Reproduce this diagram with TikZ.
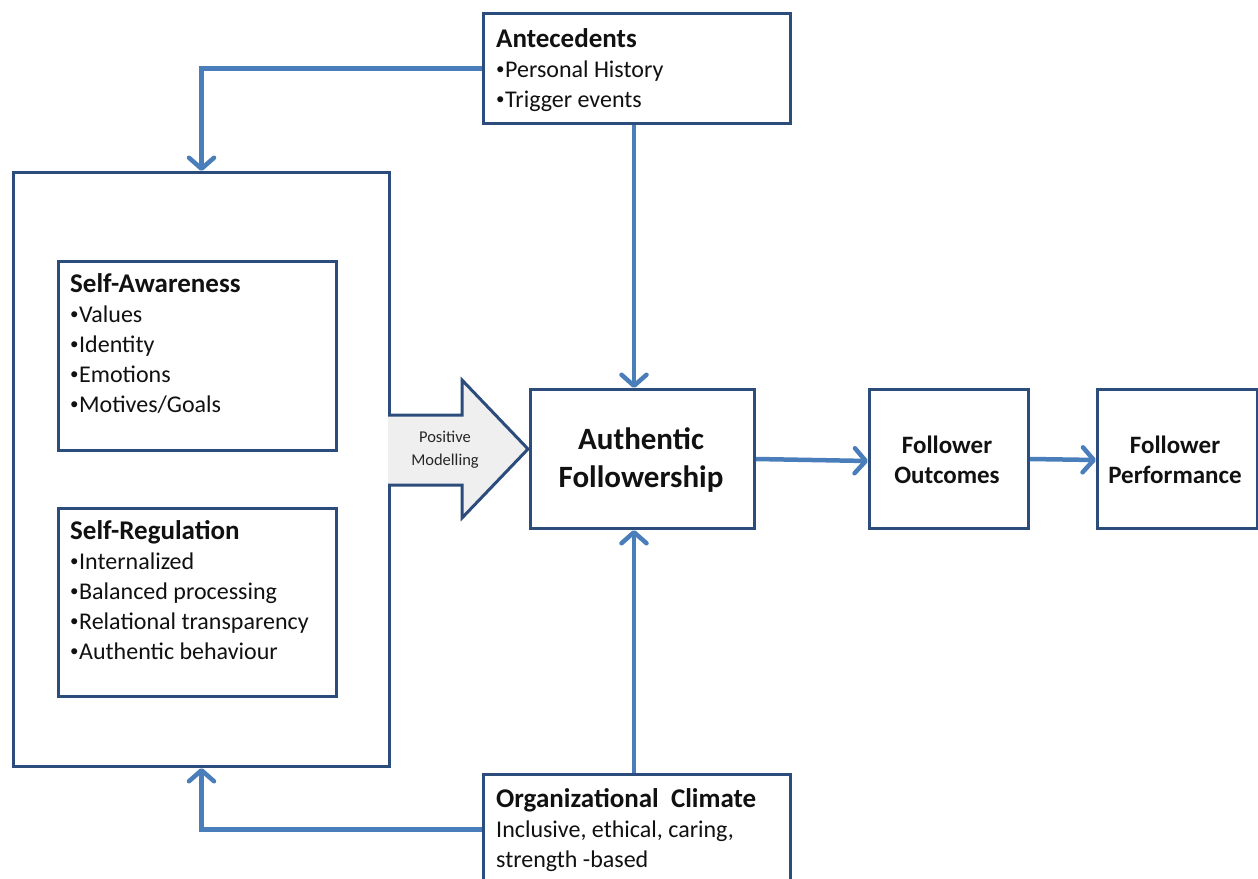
\documentclass[tikz,border=0pt]{standalone}
\usepackage{fontspec}
\setmainfont{Carlito}
\usetikzlibrary{arrows.meta}
\definecolor{boxblue}{HTML}{2C4C7C}
\definecolor{linkblue}{HTML}{4A7EBB}
\definecolor{arrowfill}{HTML}{EFEFEF}
\definecolor{txt}{HTML}{111111}
\newcommand{\boxhead}[1]{{\fontsize{27}{30}\selectfont\bfseries #1}}
% small bullet in front of list items
\newcommand{\itm}{{\fontsize{17}{0}\selectfont\raisebox{2.6pt}{•}}\kern0.5pt}

\begin{document}
\begin{tikzpicture}[x=1pt,y=-1pt,
  box/.style={draw=boxblue,line width=3pt,fill=white,inner sep=0pt,anchor=north west},
  conn/.style={draw=linkblue,line width=4.5pt,
    -{Straight Barb[length=11pt,width=25pt,round]}},
  % list texts are anchored at the baseline of their last line
  listtext/.style={anchor=base west,inner sep=0pt,align=left,text=txt,
    font=\fontsize{24}{30}\selectfont},
  centertext/.style={anchor=center,inner sep=0pt,align=center,text=txt,
    font=\fontsize{25}{30}\selectfont\bfseries}]

\clip (0,0) rectangle (1258,878);
\fill[white] (0,0) rectangle (1258,878);

% boxes
\node[box,minimum width=307pt,minimum height=110pt] (ante) at (482,12) {};
\node[box,minimum width=376pt,minimum height=594pt] (leader) at (12,171) {};
\node[box,minimum width=278pt,minimum height=189pt] (aware) at (57,260) {};
\node[box,minimum width=278pt,minimum height=188pt] (regul) at (57,507) {};
\node[box,minimum width=224pt,minimum height=139pt] (af) at (529,388) {};
\node[box,minimum width=159pt,minimum height=139pt] (fo) at (868,388) {};
\node[box,minimum width=160pt,minimum height=139pt] (fp) at (1096,388) {};
\node[box,minimum width=307pt,minimum height=110pt] (clim) at (482,773) {};

% box texts
\node[listtext] (antetext) at (496,107)
  {\boxhead{Antecedents}\\\itm Personal History\\\itm Trigger events};
\node[listtext] (awaretext) at (70,412)
  {\boxhead{Self-Awareness}\\\itm Values\\\itm Identity\\\itm Emotions\\\itm Motives/Goals};
\node[listtext] (regultext) at (70,659)
  {\boxhead{Self-Regulation}\\\itm Internalized\\\itm Balanced processing\\\itm Relational transparency\\\itm Authentic behaviour};
\node[listtext] (climtext) at (496,867)
  {\boxhead{Organizational\ \ Climate}\\Inclusive, ethical, caring,\\strength -based};

\node[centertext,font=\fontsize{31}{38}\selectfont\bfseries] (aftext) at (641,460)
  {Authentic\\Followership};
\node[centertext] (fotext) at (947,460) {Follower\\Outcomes};
\node[centertext] (fptext) at (1175,460) {Follower\\Performance};

% positive modelling block arrow
\draw[draw=boxblue,line width=3pt,fill=arrowfill,line join=miter]
  (388,415) -- (462,415) -- (462,380) -- (528,449) -- (462,518) -- (462,485) -- (388,485);
\node[centertext,font=\fontsize{16.5}{23}\selectfont,text=black!85] (pm) at (445,450)
  {Positive\\Modelling};

% connectors
\draw[conn] (ante.west) -| (leader.north);
\draw[conn] (ante.south -| 634,0) -- (af.north -| 634,0);
\draw[conn] (clim.north -| 634,0) -- (af.south -| 634,0);
\draw[conn] (clim.west) -| (leader.south);
\draw[conn] (af.east |- 0,459) -- (fo.west |- 0,461);
\draw[conn] (fo.east |- 0,459) -- (fp.west |- 0,460);
\end{tikzpicture}
\end{document}
